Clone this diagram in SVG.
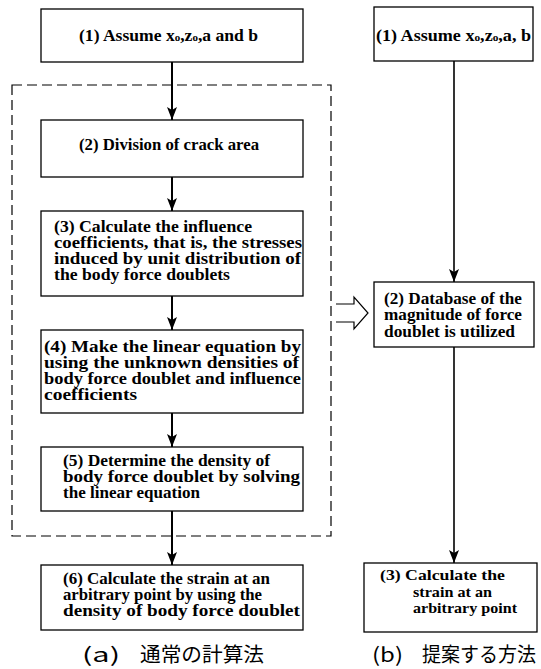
<svg xmlns="http://www.w3.org/2000/svg" width="541" height="669" viewBox="0 0 541 669">
<defs>
<style>
.box{fill:#fff;stroke:#000;stroke-width:1.3}
.t{font-family:"Liberation Serif","Noto Sans CJK JP",serif;font-weight:bold;font-size:16px;fill:#000}
.tr{font-family:"Liberation Serif","Noto Sans CJK JP",serif;font-weight:bold;font-size:15.5px;fill:#000}
.sub{font-size:10px}
.cap{font-family:"Noto Sans CJK JP",sans-serif;font-size:20px;fill:#000}
.c{stroke:#000;stroke-width:2;fill:none}
.cr{stroke:#000;stroke-width:1.6;fill:none}
.dash{fill:none;stroke:#000;stroke-width:1.2;stroke-dasharray:10 5}
</style>
<marker id="ah" markerUnits="userSpaceOnUse" markerWidth="14" markerHeight="10" refX="13" refY="5" orient="auto">
<path d="M0,0 L13,5 L0,10 L3,5 z" fill="#000"/>
</marker>
</defs>
<rect width="541" height="669" fill="#fff"/>

<rect id="group-a" class="dash" x="12" y="85" width="319" height="451"/>

<g id="connectors">
<line class="c" x1="172" y1="62" x2="172" y2="120" marker-end="url(#ah)"/>
<line class="c" x1="172" y1="177" x2="172" y2="211" marker-end="url(#ah)"/>
<line class="c" x1="172" y1="296" x2="172" y2="330" marker-end="url(#ah)"/>
<line class="c" x1="172" y1="413" x2="172" y2="447" marker-end="url(#ah)"/>
<line class="c" x1="172" y1="511" x2="172" y2="565" marker-end="url(#ah)"/>
<line class="cr" x1="454" y1="61" x2="454" y2="282" marker-end="url(#ah)"/>
<line class="cr" x1="454" y1="347" x2="454" y2="563" marker-end="url(#ah)"/>
<path d="M336,304 L354,304 L354,297 L368,313 L354,329 L354,322 L336,322" fill="none" stroke="#000" stroke-width="1.2"/>
</g>

<g id="a1">
<rect class="box" x="41" y="9" width="262" height="53"/>
<text class="t" x="79" y="41" textLength="179" lengthAdjust="spacingAndGlyphs">(1) Assume x<tspan class="sub">o</tspan>,z<tspan class="sub">o</tspan>,a and b</text>
</g>
<g id="a2">
<rect class="box" x="41" y="120" width="262" height="57"/>
<text class="t" x="79" y="150" textLength="180" lengthAdjust="spacingAndGlyphs">(2) Division of crack area</text>
</g>
<g id="a3">
<rect class="box" x="41" y="211" width="262" height="85"/>
<text class="t" x="54" y="232" textLength="198" lengthAdjust="spacingAndGlyphs">(3) Calculate the influence</text>
<text class="t" x="54" y="248" textLength="248" lengthAdjust="spacingAndGlyphs">coefficients, that is, the stresses</text>
<text class="t" x="54" y="264" textLength="247" lengthAdjust="spacingAndGlyphs">induced by unit distribution of</text>
<text class="t" x="54" y="280" textLength="176" lengthAdjust="spacingAndGlyphs">the body force doublets</text>
</g>
<g id="a4">
<rect class="box" x="41" y="330" width="262" height="83"/>
<text class="t" x="44" y="352" textLength="257" lengthAdjust="spacingAndGlyphs">(4) Make the linear equation by</text>
<text class="t" x="44" y="368" textLength="255" lengthAdjust="spacingAndGlyphs">using the unknown densities of</text>
<text class="t" x="44" y="384" textLength="257" lengthAdjust="spacingAndGlyphs">body force doublet and influence</text>
<text class="t" x="44" y="400" textLength="93" lengthAdjust="spacingAndGlyphs">coefficients</text>
</g>
<g id="a5">
<rect class="box" x="41" y="447" width="262" height="64"/>
<text class="t" x="63" y="466" textLength="207" lengthAdjust="spacingAndGlyphs">(5) Determine the density of</text>
<text class="t" x="63" y="482" textLength="237" lengthAdjust="spacingAndGlyphs">body force doublet by solving</text>
<text class="t" x="63" y="498" textLength="137" lengthAdjust="spacingAndGlyphs">the linear equation</text>
</g>
<g id="a6">
<rect class="box" x="41" y="565" width="262" height="65"/>
<text class="t" x="63" y="584" textLength="207" lengthAdjust="spacingAndGlyphs">(6) Calculate the strain at an</text>
<text class="t" x="63" y="600" textLength="199" lengthAdjust="spacingAndGlyphs">arbitrary point by using the</text>
<text class="t" x="63" y="616" textLength="237" lengthAdjust="spacingAndGlyphs">density of body force doublet</text>
</g>

<g id="b1">
<rect class="box" x="374" y="7" width="159" height="54"/>
<text class="t" x="376" y="41" textLength="155" lengthAdjust="spacingAndGlyphs">(1) Assume x<tspan class="sub">o</tspan>,z<tspan class="sub">o</tspan>,a, b</text>
</g>
<g id="b2">
<rect class="box" x="374" y="282" width="160" height="65"/>
<text class="t" x="384" y="304" textLength="138" lengthAdjust="spacingAndGlyphs">(2) Database of the</text>
<text class="t" x="384" y="320" textLength="138" lengthAdjust="spacingAndGlyphs">magnitude of force</text>
<text class="t" x="384" y="337" textLength="131" lengthAdjust="spacingAndGlyphs">doublet is utilized</text>
</g>
<g id="b3">
<rect class="box" x="364" y="563" width="173" height="69"/>
<text class="tr" x="380" y="580" textLength="125" lengthAdjust="spacingAndGlyphs">(3) Calculate the</text>
<text class="tr" x="413" y="597" textLength="79" lengthAdjust="spacingAndGlyphs">strain at an</text>
<text class="tr" x="413" y="613" textLength="104" lengthAdjust="spacingAndGlyphs">arbitrary point</text>
</g>

<g id="caption-a">
<text class="cap" x="82" y="662" textLength="38" lengthAdjust="spacingAndGlyphs">(a)</text>
<text class="cap" x="140" y="662" textLength="124" lengthAdjust="spacingAndGlyphs">通常の計算法</text>
</g>
<g id="caption-b">
<text class="cap" x="372" y="662" textLength="31" lengthAdjust="spacingAndGlyphs">(b)</text>
<text class="cap" x="422" y="662" textLength="114" lengthAdjust="spacingAndGlyphs">提案する方法</text>
</g>
</svg>
